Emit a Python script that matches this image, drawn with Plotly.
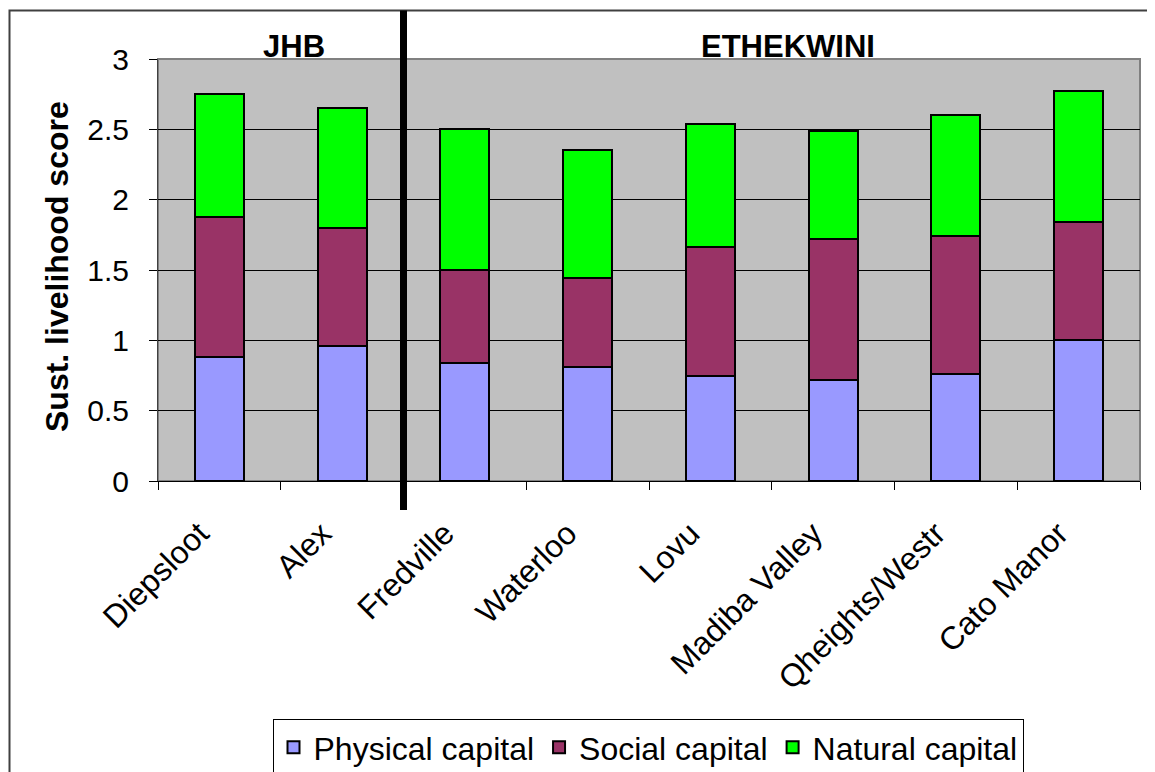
import plotly.graph_objects as go

categories = ["Diepsloot", "Alex", "Fredville", "Waterloo", "Lovu",
              "Madiba Valley", "Qheights/Westr", "Cato Manor"]
physical = [0.88, 0.96, 0.84, 0.81, 0.75, 0.72, 0.76, 1.00]
social = [1.00, 0.84, 0.66, 0.63, 0.91, 1.00, 0.98, 0.84]
natural = [0.87, 0.85, 1.00, 0.91, 0.88, 0.77, 0.86, 0.93]
series_names = ["Physical capital", "Social capital", "Natural capital"]
series_colors = ["#9999FF", "#993366", "#00FF00"]
region_labels = ["JHB", "ETHEKWINI"]
y_title = "Sust. livelihood score"

OFF = 8  # page body margin
W, H = 1155 - OFF, 772 - OFF
# plot-area edges in screen pixels (reference), converted to figure pixels
L, R, T, B = 158 - OFF, 1140 - OFF, 59 - OFF, 481 - OFF
pw, ph = R - L, B - T

def px(x):
    return (x - OFF - L) / pw

def py(y):
    return (B - (y - OFF)) / ph

fig = go.Figure()
for name, vals, col in zip(series_names, [physical, social, natural], series_colors):
    fig.add_trace(go.Bar(
        x=categories, y=vals, name=name,
        marker=dict(color=col, line=dict(color="black", width=2)),
    ))

fig.update_layout(
    width=W, height=H,
    barmode="stack", bargap=0.6,
    margin=dict(l=L, r=W - R, t=T, b=H - B, pad=0, autoexpand=False),
    plot_bgcolor="#C0C0C0", paper_bgcolor="white",
    font=dict(family="Liberation Sans, Arial, sans-serif", color="black"),
    showlegend=True,
    legend=dict(
        orientation="h", x=px(648), xanchor="center", y=py(719), yanchor="top",
        bordercolor="black", borderwidth=1, bgcolor="white",
        font=dict(size=32),
        traceorder="normal",
    ),
    xaxis=dict(
        type="category", tickson="boundaries", ticks="outside", ticklen=8,
        tickcolor="black", tickangle=-45, tickfont=dict(size=32),
        ticklabelstandoff=20, ticklabelshift=-20,
        showline=True, linecolor="black", linewidth=1, showgrid=False,
        automargin=False,
    ),
    yaxis=dict(
        range=[0, 3], dtick=0.5, ticks="outside", ticklen=8, tickcolor="black",
        tickfont=dict(size=30), ticklabelstandoff=14,
        showgrid=True, gridcolor="black", gridwidth=1,
        showline=True, linecolor="#404040", linewidth=1, zeroline=False,
        automargin=False,
    ),
)

# plot area border (gray)
fig.add_shape(type="rect", xref="paper", yref="paper", x0=0, x1=1, y0=0, y1=1,
              line=dict(color="#808080", width=2), layer="below")
# outer chart border
fig.add_shape(type="rect", xref="paper", yref="paper",
              x0=px(9.5), x1=px(1190), y0=py(820), y1=py(10.5),
              line=dict(color="#404040", width=2))
# thick separator between JHB and ETHEKWINI
fig.add_shape(type="line", xref="x", yref="paper", x0=1.5, x1=1.5,
              y0=py(510), y1=py(10.5), line=dict(color="black", width=7))

fig.add_annotation(text="<b>%s</b>" % region_labels[0], xref="paper", yref="paper",
                   x=px(294), y=py(46), showarrow=False, font=dict(size=31),
                   xanchor="center", yanchor="middle")
fig.add_annotation(text="<b>%s</b>" % region_labels[1], xref="paper", yref="paper",
                   x=px(788), y=py(46), showarrow=False, font=dict(size=31),
                   xanchor="center", yanchor="middle")
fig.add_annotation(text="<b>%s</b>" % y_title, xref="paper", yref="paper",
                   x=px(57), y=py(267), showarrow=False, font=dict(size=32),
                   textangle=-90, xanchor="center", yanchor="middle")

fig.write_html("out.html")
